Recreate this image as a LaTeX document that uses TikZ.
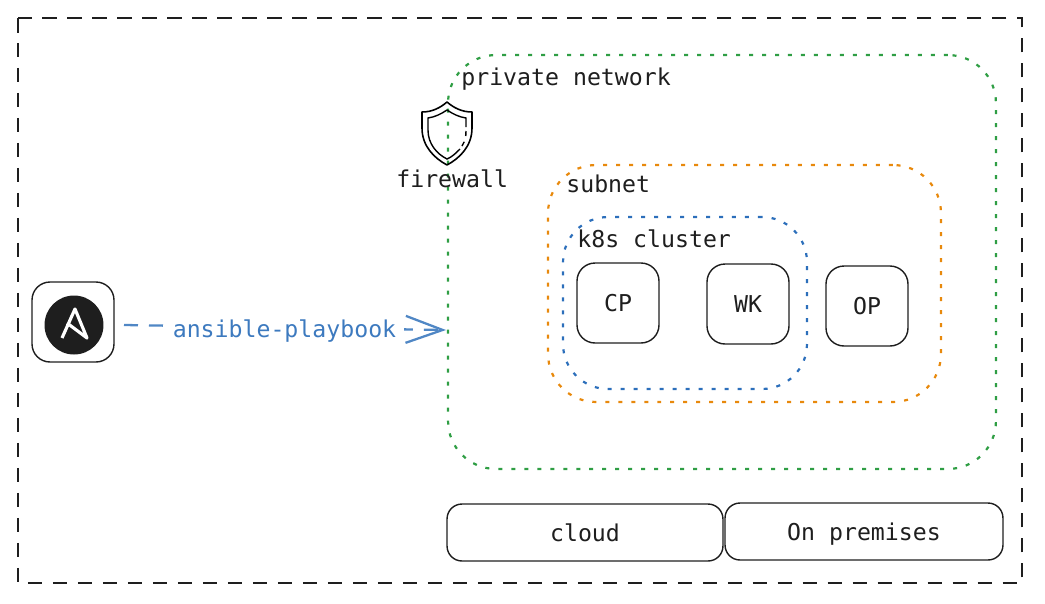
\documentclass[tikz,border=0pt]{standalone}
\usepackage{fontspec}
\setmainfont{DejaVu Sans Mono}
\usetikzlibrary{arrows.meta}
\definecolor{ink}{HTML}{1E1E1E}
\definecolor{netgreen}{HTML}{2F9E44}
\definecolor{subnetorange}{HTML}{E8890C}
\definecolor{clusterblue}{HTML}{2C6FBB}
\definecolor{playblue}{HTML}{3D7ABF}
\tikzset{
	every node/.style={font=\fontsize{13.2}{15}\selectfont, text=ink, inner sep=0},
	box/.style={draw=ink, line width=0.8pt, rounded corners=0.36cm, minimum width=1.64cm, minimum height=1.6cm},
	basebox/.style={draw=ink, line width=0.8pt, rounded corners=0.3cm, minimum height=1.14cm, text height=0.35cm, text depth=0cm},
	zone/.style={draw=#1, line width=1.25pt, rounded corners=0.96cm, dash pattern=on 0.08cm off 0.18cm},
	caption/.style={anchor=base west},
}
\begin{document}
\begin{tikzpicture}[x=0.02cm, y=-0.02cm]
		%%%%% START %%%%%
		\useasboundingbox (0, 0) rectangle (1045, 603);
		
		\draw[ink, line width=1.25pt, dash pattern=on 0.29cm off 0.21cm] (18, 18) rectangle (1022, 583);
		
		\node[zone=netgreen, minimum width=10.96cm, minimum height=8.28cm] (private) at (722, 262) {};
		\node[zone=subnetorange, minimum width=7.86cm, minimum height=4.74cm] (subnet) at (744.5, 283.5) {};
		\node[zone=clusterblue, minimum width=4.88cm, minimum height=3.44cm, rounded corners=0.9cm] (cluster) at (685, 303) {};
		
		\node[caption] (privatelabel) at (461, 85) {private network};
		\node[caption] (subnetlabel) at (566, 192) {subnet};
		\node[caption] (clusterlabel) at (577, 247) {k8s cluster};
		
		\node[box] (cp) at (618, 303) {CP};
		\node[box] (wk) at (748, 304) {WK};
		\node[box] (op) at (867, 306) {OP};
		
		\node[basebox, minimum width=5.52cm] (cloud) at (585, 532.5) {cloud};
		\node[basebox, minimum width=5.56cm] (premises) at (864, 531.5) {On premises};
		
		% firewall
		\draw[black, line width=0.9pt, line join=round] (447, 102) .. controls (440, 108) and (432, 112) .. (422, 112) -- (422, 128) .. controls (422, 146) and (434, 158) .. (447, 165) .. controls (460, 158) and (472, 146) .. (472, 128) -- (472, 112) .. controls (462, 112) and (454, 108) .. (447, 102) -- cycle;
		\draw[black, line width=0.8pt] (447, 110) .. controls (441, 114) and (435, 117) .. (428, 118) -- (428, 130) .. controls (428, 144) and (437, 154) .. (447, 159) .. controls (452, 157) and (456, 153) .. (460, 149);
		\draw[black, line width=0.8pt] (447, 110) .. controls (453, 114) and (459, 117) .. (466, 118) -- (466, 127);
		\draw[black, line width=0.8pt, dash pattern=on 0.1cm off 0.12cm] (466, 131) .. controls (466, 137) and (465, 141) .. (462, 146);
		\node[caption] (firewall) at (396, 187) {firewall};
		
		% ansible
		\node[box] (ansible) at (73, 322) {};
		\node[circle, fill=ink, minimum size=1.18cm] (logo) at (74, 325) {};
		\draw[white, line width=1.8pt, line join=round] (62, 338) -- (75, 309) -- (87, 338) -- (67, 323);
		
		\coordinate (playout) at (124, 325);
		\coordinate (playin) at (446, 330);
		\draw[playblue!90!white, line width=1.3pt, dash pattern=on 0.28cm off 0.22cm, -{Straight Barb[length=0.74cm, width=0.54cm]}] (playout) -- (playin);
		\node[fill=white, inner xsep=0.15cm, anchor=base, text=playblue] (playbook) at (284.5, 337) {ansible-playbook};
		%%%%% END %%%%%
	\end{tikzpicture}
\end{document}
